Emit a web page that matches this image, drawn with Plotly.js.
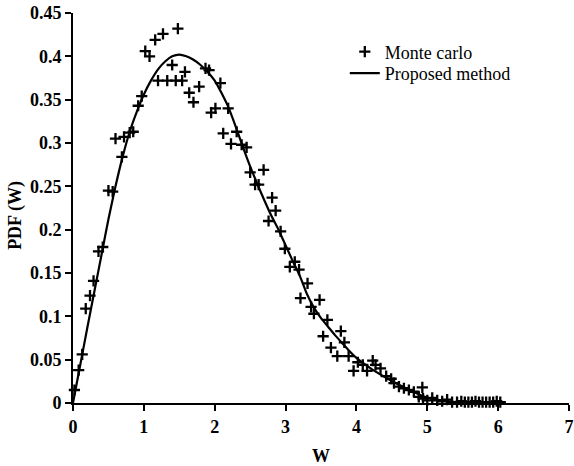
<!DOCTYPE html>
<html>
<head>
<meta charset="utf-8">
<script src="https://cdn.plot.ly/plotly-3.0.1.min.js"></script>
<style>html,body{margin:0;padding:0;background:#fff;}#chart{width:574px;height:466px;}</style>
</head>
<body>
<div id="chart"></div>
<script>
// Monte Carlo samples
const mcW = [0.02,0.08,0.13,0.18,0.24,0.29,0.36,0.42,0.50,0.56,0.60,0.69,0.72,0.80,0.85,0.92,0.97,1.02,1.08,1.16,1.20,1.27,1.33,1.40,1.45,1.48,1.54,1.58,1.64,1.70,1.78,1.87,1.92,1.95,2.01,2.08,2.12,2.19,2.23,2.31,2.38,2.45,2.50,2.57,2.62,2.69,2.76,2.81,2.86,2.93,2.99,3.06,3.13,3.19,3.21,3.31,3.36,3.40,3.48,3.53,3.59,3.64,3.73,3.78,3.83,3.89,3.96,4.02,4.09,4.15,4.23,4.27,4.34,4.42,4.49,4.53,4.60,4.67,4.74,4.81,4.88,4.93,4.94,5.00,5.07,5.14,5.21,5.28,5.35,5.42,5.48,5.53,5.58,5.63,5.68,5.73,5.78,5.83,5.88,5.93,5.98,6.03];
const mcPDF = [0.015,0.038,0.056,0.109,0.124,0.141,0.175,0.180,0.245,0.244,0.305,0.284,0.307,0.312,0.313,0.343,0.354,0.406,0.400,0.419,0.372,0.426,0.372,0.390,0.372,0.432,0.372,0.382,0.358,0.347,0.365,0.386,0.384,0.335,0.340,0.369,0.311,0.340,0.299,0.313,0.298,0.295,0.266,0.252,0.252,0.269,0.210,0.237,0.222,0.198,0.178,0.157,0.163,0.154,0.121,0.138,0.111,0.103,0.119,0.077,0.096,0.064,0.054,0.083,0.070,0.054,0.037,0.047,0.044,0.037,0.049,0.044,0.040,0.031,0.028,0.023,0.019,0.017,0.015,0.013,0.007,0.018,0.005,0.003,0.006,0.003,0.002,0.004,0.001,0.001,0.002,0.001,0.001,0.001,0.002,0.001,0.001,0.001,0.001,0.001,0.002,0.001];

// Proposed method curve
const pmW = [0,0.1,0.2,0.3,0.4,0.5,0.6,0.7,0.8,0.9,1.0,1.1,1.2,1.3,1.4,1.5,1.6,1.7,1.8,1.9,2.0,2.1,2.2,2.3,2.4,2.5,2.6,2.7,2.8,2.9,3.0,3.1,3.2,3.3,3.4,3.5,3.6,3.7,3.8,3.9,4.0,4.2,4.4,4.6,4.8,5.0,5.2,5.4,5.6,5.8,6.0];
const pmPDF = [0,0.043,0.086,0.128,0.170,0.212,0.250,0.284,0.313,0.336,0.356,0.372,0.385,0.394,0.400,0.402,0.400,0.396,0.390,0.382,0.372,0.357,0.340,0.318,0.295,0.273,0.253,0.234,0.216,0.200,0.182,0.164,0.147,0.126,0.110,0.098,0.088,0.078,0.069,0.060,0.052,0.040,0.030,0.021,0.013,0.006,0.003,0.001,0.0005,0.0002,0];

const xTicks = [0,1,2,3,4,5,6,7];
const yTicks = [0,0.05,0.1,0.15,0.2,0.25,0.3,0.35,0.4,0.45];
const yTickText = ['0','0.05','0.1','0.15','0.2','0.25','0.3','0.35','0.4','0.45'];
const xTitle = 'W';
const yTitle = 'PDF (W)';
const seriesNames = ['Monte carlo', 'Proposed method'];

const serif = 'Liberation Serif, Times New Roman, serif';

const traces = [
  {
    x: mcW, y: mcPDF, type: 'scatter', mode: 'markers', name: seriesNames[0],
    cliponaxis: false, legend: 'legend',
    marker: {symbol: 'cross-thin', size: 8, color: '#000', line: {color: '#000', width: 2.3}}
  },
  {
    x: pmW, y: pmPDF, type: 'scatter', mode: 'lines', name: seriesNames[1],
    legend: 'legend2',
    line: {color: '#000', width: 2.2, shape: 'spline', smoothing: 0.6}
  }
];

const axisCommon = {
  showline: true, linecolor: '#000', linewidth: 2,
  ticks: 'outside', ticklen: 6, tickwidth: 2, tickcolor: '#000',
  showgrid: false, zeroline: false, mirror: false,
  ticklabeloverflow: 'allow',
  tickfont: {family: serif, size: 18, color: '#000', weight: 'bold'}
};

const legendCommon = {
  xanchor: 'left', yanchor: 'middle',
  bgcolor: 'rgba(0,0,0,0)', borderwidth: 0,
  font: {family: serif, size: 18, color: '#000'},
  itemwidth: 30
};

const layout = {
  width: 574, height: 466,
  margin: {l: 73, r: 5, t: 13, b: 63},
  paper_bgcolor: '#fff', plot_bgcolor: '#fff',
  showlegend: true,
  legend: Object.assign({}, legendCommon, {x: 0.548, y: 0.9}),
  legend2: Object.assign({}, legendCommon, {x: 0.548, y: 0.845}),
  xaxis: Object.assign({}, axisCommon, {
    range: [0, 7], tickvals: xTicks,
    title: {text: xTitle, font: {family: serif, size: 18, color: '#000', weight: 'bold'}, standoff: 14}
  }),
  yaxis: Object.assign({}, axisCommon, {
    range: [0, 0.45], tickvals: yTicks, ticktext: yTickText
  }),
  annotations: [{
    text: yTitle, textangle: -90, showarrow: false,
    xref: 'paper', yref: 'paper', x: -0.116, y: 0.481,
    xanchor: 'center', yanchor: 'middle',
    font: {family: serif, size: 18, color: '#000', weight: 'bold'}
  }]
};

Plotly.newPlot('chart', traces, layout, {displayModeBar: false, staticPlot: true});
</script>
</body>
</html>
